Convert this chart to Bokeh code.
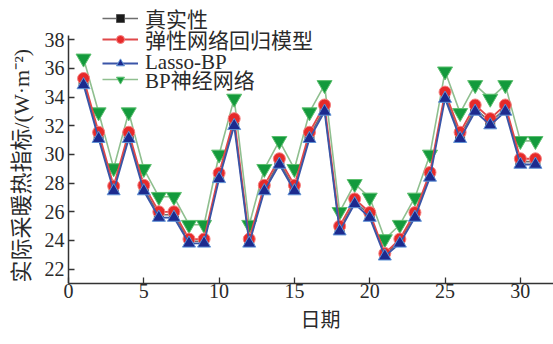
from bokeh.plotting import figure
from bokeh.models import Range1d, FixedTicker, Legend, LegendItem, Title
from bokeh.embed import file_html
from bokeh.resources import INLINE

days = list(range(1, 32))
real = [35.05, 31.3, 27.6, 31.3, 27.6, 25.8, 25.8, 23.95, 23.95, 28.5, 32.25, 23.95, 27.6, 29.5, 27.6,
        31.3, 33.2, 24.8, 26.7, 25.8, 23.0, 23.95, 25.8, 28.6, 34.1, 31.3, 33.2, 32.25, 33.2, 29.5, 29.5]
elastic = [35.3, 31.55, 27.8, 31.55, 27.85, 26.0, 26.0, 24.1, 24.1, 28.7, 32.5, 24.1, 27.85, 29.7, 27.85,
           31.55, 33.45, 25.0, 26.9, 25.95, 23.1, 24.1, 25.95, 28.75, 34.35, 31.55, 33.45, 32.5, 33.45, 29.7, 29.7]
lasso = [34.85, 31.1, 27.45, 31.1, 27.45, 25.6, 25.6, 23.8, 23.8, 28.3, 32.0, 23.8, 27.45, 29.3, 27.45,
         31.1, 33.0, 24.65, 26.55, 25.6, 22.9, 23.8, 25.6, 28.4, 33.9, 31.1, 33.0, 32.05, 33.0, 29.3, 29.3]
bpnn = [36.7, 32.95, 29.05, 32.95, 29.0, 27.05, 27.05, 25.1, 25.1, 30.0, 33.9, 25.1, 29.0, 30.95, 29.0,
        32.95, 34.85, 26.0, 27.95, 27.0, 24.1, 25.1, 27.0, 30.0, 35.8, 32.9, 34.85, 33.9, 34.85, 30.95, 30.95]

names = ["真实性", "弹性网络回归模型", "Lasso-BP", "BP神经网络"]
x_ticks = [0, 5, 10, 15, 20, 25, 30]
y_ticks = [22, 24, 26, 28, 30, 32, 34, 36, 38]
x_title = "日期"
y_title = "实际采暖热指标/(W·m⁻²)"

FONT = "'Liberation Serif', 'Noto Sans CJK SC', serif"
TXT = "#2a2a2a"

p = figure(width=553, height=344, output_backend="svg", toolbar_location=None,
           x_range=Range1d(0, 32.2), y_range=Range1d(21, 40.74),
           min_border_left=66, min_border_top=0, min_border_bottom=61, min_border_right=0)
p.outline_line_color = None
p.xgrid.visible = False
p.ygrid.visible = False
p.background_fill_color = "white"

# series
l_real = p.line(days, real, line_color="#6e6e6e", line_width=1.6)
m_real = p.scatter(days, real, marker="square", size=9, fill_color="#1a1a1a", line_color="#555555")

l_bp = p.line(days, bpnn, line_color="#8fbf8f", line_width=1.6)
m_bp = p.scatter(days, bpnn, marker="inverted_triangle", size=15, fill_color="#139a3c", line_color="#5cbf6e", line_width=1)

l_el = p.line(days, elastic, line_color="#e0484a", line_width=1.8)
m_el = p.scatter(days, elastic, marker="circle", size=12, fill_color="#e62a2a", line_color="#f58080", line_width=1)

l_la = p.line(days, lasso, line_color="#3a55a8", line_width=1.8)
m_la = p.scatter(days, lasso, marker="triangle", size=13, fill_color="#1c2a8e", line_color="#5f93d6", line_width=1)

rows = [(names[0], [l_real, m_real]), (names[1], [l_el, m_el]),
        (names[2], [l_la, m_la]), (names[3], [l_bp, m_bp])]
row_y = [250, 229, 208, 189]
for (lab, rens), yy in zip(rows, row_y):
    lg = Legend(items=[LegendItem(label=lab, renderers=rens)], location=(34, yy))
    lg.background_fill_alpha = 0
    lg.border_line_color = None
    lg.label_text_font = FONT
    lg.label_text_font_size = "21px"
    lg.label_text_color = TXT
    lg.glyph_width = 36
    lg.glyph_height = 20
    lg.label_height = 20
    lg.spacing = 0
    lg.padding = 0
    lg.margin = 0
    lg.label_standoff = 7
    p.add_layout(lg, "center")

for ax in (p.xaxis[0], p.yaxis[0]):
    ax.axis_line_color = "#333333"
    ax.axis_line_width = 1.5
    ax.major_tick_line_color = "#333333"
    ax.major_tick_line_width = 1.3
    ax.major_tick_in = 6
    ax.major_tick_out = 0
    ax.minor_tick_line_color = None
    ax.major_label_text_font = FONT
    ax.major_label_text_font_size = "20px"
    ax.major_label_text_color = TXT

p.yaxis.bounds = (21, 38.3)
p.xaxis.ticker = FixedTicker(ticks=x_ticks)
p.yaxis.ticker = FixedTicker(ticks=y_ticks)
p.xaxis.major_label_standoff = 0
p.yaxis.major_label_standoff = 4

# axis titles as side-panel titles (allow offset along the axis)
p.add_layout(Title(text=x_title, align="left", offset=226, standoff=0, padding=6,
                   text_font=FONT, text_font_size="20px", text_font_style="normal",
                   text_color=TXT), "below")
p.add_layout(Title(text=y_title, align="left", offset=1, standoff=14, vertical_align="middle",
                   text_font=FONT, text_font_size="22px", text_font_style="normal",
                   text_color=TXT), "left")

open("out.html", "w").write(file_html(p, INLINE))
